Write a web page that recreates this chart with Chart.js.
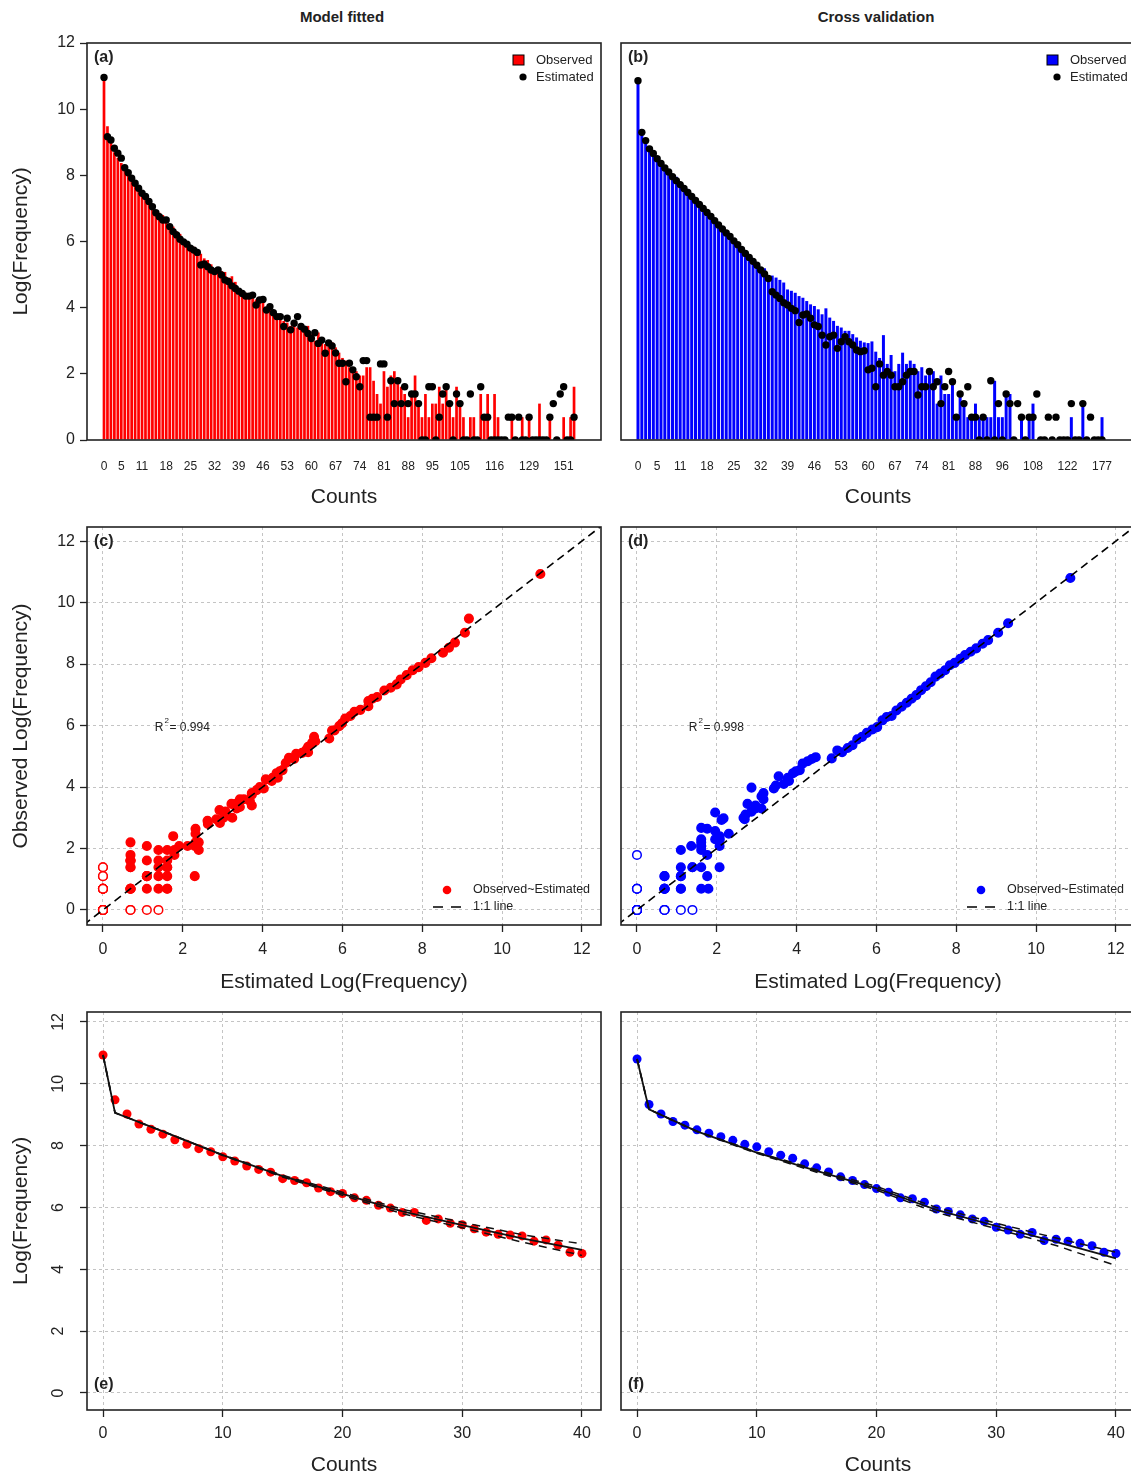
<!DOCTYPE html>
<html>
<head>
<meta charset="utf-8">
<title>Observed and estimated log frequencies</title>
<script src="https://cdn.jsdelivr.net/npm/chart.js@4.4.1/dist/chart.umd.min.js"></script>
<style>
  html, body { margin: 0; overflow: hidden; }
  body { background: #fff; width: 1131px; height: 1478px; position: relative; font-family: "Liberation Sans", Arial, sans-serif; color: #222; }
  canvas { position: absolute; }
  .col { position: absolute; top: 8px; font-size: 15px; font-weight: bold; transform: translateX(-50%); white-space: nowrap; }
</style>
</head>
<body>
<div class="col" style="left:342px">Model fitted</div>
<div class="col" style="left:876px">Cross validation</div>
<canvas id="chartA" width="610" height="480" style="left:0;top:30px"></canvas>
<canvas id="chartB" width="530" height="480" style="left:612px;top:30px"></canvas>
<canvas id="chartC" width="610" height="480" style="left:0;top:515px"></canvas>
<canvas id="chartD" width="530" height="480" style="left:612px;top:515px"></canvas>
<canvas id="chartE" width="610" height="478" style="left:0;top:1000px"></canvas>
<canvas id="chartF" width="530" height="478" style="left:612px;top:1000px"></canvas>
<script>
// ---- model fitted: one bar per observed count value ----
var countsA = [0,1,2,3,4,5,6,7,8,9,10,11,12,13,14,15,16,17,18,19,20,21,22,23,24,25,26,27,28,29,
  30,31,32,33,34,35,36,37,38,39,40,41,42,43,44,45,46,47,48,49,50,51,52,53,54,55,56,57,58,59,
  60,61,62,63,64,65,66,67,68,69,70,71,72,73,74,75,76,77,78,79,80,81,82,83,84,85,86,87,88,89,
  90,91,92,93,94,95,96,97,98,99,100,102,104,105,106,107,108,109,110,111,112,114,115,116,
  117,118,119,120,122,123,125,127,128,129,131,132,134,135,137,139,141,144,147,151,156,163,172];
var obsA = [10.93,9.48,9.02,8.70,8.53,8.37,8.19,8.04,7.90,7.80,7.64,7.50,7.34,7.23,7.14,6.93,6.87,6.80,6.63,6.51,
  6.45,6.31,6.23,6.07,5.98,5.84,5.84,5.58,5.63,5.49,5.44,5.31,5.20,5.13,5.11,5.08,4.91,4.95,4.78,4.55,4.51,
  4.45,4.40,4.30,4.25,4.20,4.30,4.00,3.95,3.90,3.80,3.75,3.60,3.55,3.45,3.60,3.40,3.35,3.30,3.45,3.20,
  3.00,3.25,3.00,2.90,2.83,2.95,2.80,
  2.64,2.48,2.40,2.20,2.08,2.08,1.95,1.95,2.20,2.20,
  1.79,1.39,1.10,2.08,1.61,1.95,2.08,1.79,1.61,1.39,
  0.69,1.39,1.95,1.10,0.69,1.39,0.69,1.10,1.10,1.61,
  1.10,1.61,1.10,0.69,1.61,1.10,0.69,0,0.69,0.69,
  0,1.39,0.69,1.39,0,1.39,0.69,0,0,0,
  0.69,0,0,0.69,0,0.69,0,0,1.10,0,
  0,0.69,0,0,0,0.69,0,0.69,1.61];
var estA = [10.96,9.17,9.07,8.82,8.67,8.52,8.23,8.08,7.91,7.76,7.61,7.46,7.36,7.21,7.05,6.87,6.75,6.65,6.65,6.45,
  6.30,6.20,6.07,5.99,5.92,5.80,5.74,5.67,5.29,5.32,5.24,5.14,5.09,5.14,4.99,4.84,4.79,4.66,4.58,4.50,4.43,
  4.35,4.35,4.38,4.08,4.23,4.25,3.93,4.03,3.85,3.73,3.73,3.43,3.68,3.33,3.53,3.73,3.43,3.35,3.22,3.07,
  3.24,2.92,3.02,2.62,2.93,2.84,2.63,
  2.32,2.32,1.76,2.32,2.12,1.91,1.61,2.40,2.40,0.69,
  0.69,0.69,2.30,2.30,0.69,1.79,1.10,1.79,1.10,1.61,
  1.10,1.39,1.39,1.10,0,0,1.61,1.61,0,0.69,
  1.39,1.61,1.10,0,1.39,1.10,0,0,1.39,0,
  0,1.61,0.69,0.69,0,0,0,0,0,0.69,
  0.69,0,0.69,0,0,0.69,0,0,0,0,
  0,0.69,1.10,0,1.39,1.61,0,0,0.69];

// ---- cross validation ----
var countsB = [0,1,2,3,4,5,6,7,8,9,10,11,12,13,14,15,16,17,18,19,20,21,22,23,24,25,26,27,28,29,
  30,31,32,33,34,35,36,37,38,39,40,41,42,43,44,45,46,47,48,49,50,51,52,53,54,55,56,57,58,59,
  60,61,62,63,64,65,66,67,68,69,70,71,72,73,74,75,76,77,78,79,80,81,82,83,84,85,86,87,88,
  89,90,91,92,94,95,96,98,99,101,102,104,105,107,108,109,111,112,114,116,117,119,120,122,
  125,129,133,138,142,149,156,165,177];
var obsB = [10.80,9.33,9.02,8.78,8.66,8.51,8.40,8.29,8.17,8.04,7.96,7.80,7.69,7.59,7.41,7.28,7.15,6.99,6.87,6.74,
  6.61,6.49,6.31,6.28,6.17,5.95,5.87,5.76,5.63,5.55,5.36,5.27,5.13,5.19,4.93,4.97,4.91,4.84,4.76,4.55,4.51,
  4.45,4.35,4.30,4.20,4.10,4.05,3.95,3.80,3.98,3.70,3.60,3.45,3.40,3.30,3.30,3.20,3.10,3.00,2.95,2.93,2.98,
  2.67,2.48,3.17,2.30,2.57,2.08,2.30,2.64,2.30,2.40,
  2.30,2.08,2.20,1.95,2.08,2.08,1.10,1.95,1.39,1.39,
  1.79,0.69,1.39,1.10,0.69,0.69,1.10,0.69,0.69,0.69,
  0.69,1.79,0.69,0.69,1.39,1.39,0,0,0.69,0,
  0.69,1.10,0,0,0,0,0,0,0,0,
  0,0.69,0,0,1.10,0,0,0,0,0.69];
var estB = [10.86,9.30,9.05,8.80,8.66,8.50,8.36,8.22,8.10,7.96,
  7.84,7.72,7.60,7.48,7.36,7.24,7.12,7.00,6.88,6.76,
  6.63,6.50,6.38,6.26,6.15,6.02,5.90,5.76,5.64,5.52,
  5.40,5.28,5.14,5.02,4.88,4.48,4.38,4.28,4.15,4.08,
  3.98,3.91,3.55,3.78,3.81,3.68,3.48,3.43,3.17,2.87,
  3.12,3.17,2.77,2.97,3.12,2.97,2.87,2.72,2.67,2.70,
  2.12,2.17,1.61,2.30,1.96,2.07,1.96,1.61,1.61,1.76,
  1.96,2.07,2.07,1.36,1.61,1.61,2.07,1.61,1.76,1.10,
  1.61,2.07,1.76,0.69,1.39,1.10,1.61,0.69,0.69,0,
  0.69,0,1.79,0,1.10,0,1.39,1.10,0,1.10,
  0.69,0,0.69,0.69,1.39,0,0,0.69,0,0.69,
  0,0,0,1.10,0,0,1.10,0,0.69,0,
  0,0];

// tick labels
var shownA = [0,5,11,18,25,32,39,46,53,60,67,74,81,88,95,105,116,129,151];
var shownB = [0,5,11,18,25,32,39,46,53,60,67,74,81,88,96,108,122,177];
var logTicks = [0,2,4,6,8,10,12];
var countTicks = [0,10,20,30,40];

// fitted curves for counts 0-40 (solid = fit, dashed = bounds)
var fitX = [0,1,5,10,15,20,25,30,35,40];
var fitE = [10.93,9.06,8.46,7.69,7.01,6.44,5.87,5.43,5.00,4.63];
var upE  = [10.93,9.06,8.46,7.70,7.04,6.49,5.94,5.52,5.12,4.82];
var loE  = [10.93,9.06,8.46,7.68,6.98,6.39,5.80,5.34,4.88,4.45];
var fitF = [10.80,9.17,8.46,7.77,7.18,6.62,5.92,5.40,4.89,4.35];
var upF  = [10.80,9.17,8.47,7.79,7.22,6.68,6.00,5.49,5.01,4.55];
var loF  = [10.80,9.17,8.45,7.75,7.14,6.56,5.84,5.31,4.77,4.12];

var oneToOne = [-1, 13];
var r2C = '0.994';
var r2D = '0.998';

Chart.defaults.font.family = '"Liberation Sans", Arial, sans-serif';
Chart.defaults.color = '#222';
Chart.defaults.animation = false;
Chart.defaults.plugins.legend.display = false;
Chart.defaults.plugins.tooltip.enabled = false;

var FONT = '"Liberation Sans", Arial, sans-serif';

function fixedTicks(list) {
  return function (scale) {
    scale.ticks = list.map(function (v) { return { value: v }; });
  };
}

function pts(xs, ys) {
  return xs.map(function (x, i) { return { x: x, y: ys[i] }; });
}

// frame, panel tag and extra annotations
function decor(tag, tagAtBottom, extra) {
  return {
    id: 'decor',
    afterDraw: function (chart) {
      var ctx = chart.ctx, a = chart.chartArea;
      ctx.save();
      ctx.strokeStyle = '#222';
      ctx.lineWidth = 1.6;
      ctx.strokeRect(a.left, a.top, a.right - a.left, a.bottom - a.top);
      ctx.fillStyle = '#222';
      ctx.font = 'bold 16px ' + FONT;
      ctx.textAlign = 'left';
      ctx.textBaseline = 'middle';
      ctx.fillText(tag, a.left + 7, tagAtBottom ? a.bottom - 25 : a.top + 15);
      if (extra) extra(chart, ctx, a);
      ctx.restore();
    }
  };
}

function barLegend(color) {
  return function (chart, ctx, a) {
    ctx.fillStyle = color;
    ctx.fillRect(a.right - 88, a.top + 12, 11, 10);
    ctx.strokeStyle = '#000';
    ctx.lineWidth = 1;
    ctx.strokeRect(a.right - 88, a.top + 12, 11, 10);
    ctx.fillStyle = '#000';
    ctx.beginPath();
    ctx.arc(a.right - 78, a.top + 34, 3.6, 0, Math.PI * 2);
    ctx.fill();
    ctx.fillStyle = '#222';
    ctx.font = '13px ' + FONT;
    ctx.fillText('Observed', a.right - 65, a.top + 17);
    ctx.fillText('Estimated', a.right - 65, a.top + 34);
  };
}

function scatterLegend(color, r2) {
  return function (chart, ctx, a) {
    ctx.fillStyle = color;
    ctx.beginPath();
    ctx.arc(a.right - 154, a.bottom - 35, 4.3, 0, Math.PI * 2);
    ctx.fill();
    ctx.strokeStyle = '#000';
    ctx.lineWidth = 1.6;
    ctx.setLineDash([10, 8]);
    ctx.beginPath();
    ctx.moveTo(a.right - 168, a.bottom - 18);
    ctx.lineTo(a.right - 140, a.bottom - 18);
    ctx.stroke();
    ctx.setLineDash([]);
    ctx.fillStyle = '#222';
    ctx.font = '12.5px ' + FONT;
    ctx.fillText('Observed~Estimated', a.right - 128, a.bottom - 35);
    ctx.fillText('1:1 line', a.right - 128, a.bottom - 18);
    // R squared, placed in data units
    var x = chart.scales.x.getPixelForValue(1.3);
    var y = chart.scales.y.getPixelForValue(5.92);
    ctx.font = '12px ' + FONT;
    ctx.fillText('R', x, y);
    var w = ctx.measureText('R').width;
    ctx.font = '8px ' + FONT;
    ctx.fillText('2', x + w + 1, y - 7);
    ctx.font = '12px ' + FONT;
    ctx.fillText('= ' + r2, x + w + 6, y);
  };
}

function hollow(color) {
  return function (c) {
    var p = c.raw;
    return (p && (p.x === 0 || p.y === 0)) ? '#fff' : color;
  };
}

function yAxis(left, gridOn, rotated, min, max, title) {
  return {
    min: min, max: max, bounds: 'data',
    afterBuildTicks: fixedTicks(logTicks),
    ticks: {
      display: left, font: { size: 16 }, padding: rotated ? 13 : 5,
      minRotation: rotated ? 90 : 0, maxRotation: rotated ? 90 : 0,
      crossAlign: rotated ? 'center' : 'near'
    },
    grid: { drawOnChartArea: gridOn, drawTicks: left, tickLength: 7, tickColor: '#222', tickWidth: 1.3, color: '#c4c4c4', lineWidth: 1 },
    border: { display: false, dash: [3, 3] },
    title: { display: left, text: title, font: { size: 21 }, padding: { top: 9, bottom: 0 } },
    afterFit: function (s) { s.width = left ? 87 : 0; s.paddingTop = 0; s.paddingBottom = 0; }
  };
}

function padFor(left, top) {
  return left ? { top: top, right: 9 } : { top: top, left: 9, right: 7 };
}

function barOptions(counts, shown, xmin, xmax, left) {
  return {
    responsive: false,
    devicePixelRatio: 1,
    layout: { padding: padFor(left, 13) },
    scales: {
      x: {
        type: 'linear', min: xmin, max: xmax, bounds: 'data', offset: false,
        afterBuildTicks: function (s) {
          s.ticks = shown.map(function (c) { return { value: counts.indexOf(c) }; });
        },
        ticks: { autoSkip: false, maxRotation: 0, padding: 19, font: { size: 12 },
          callback: function (v) { return String(counts[v]); } },
        grid: { display: false, drawTicks: false, offset: false },
        border: { display: false },
        title: { display: true, text: 'Counts', font: { size: 21 }, padding: 0 },
        afterFit: function (s) { s.height = 70; s.paddingLeft = 0; s.paddingRight = 0; }
      },
      y: yAxis(left, false, false, 0, 12, 'Log(Frequency)')
    }
  };
}

function scatterOptions(left) {
  return {
    responsive: false,
    devicePixelRatio: 1,
    layout: { padding: padFor(left, 12) },
    scales: {
      x: {
        type: 'linear', min: -0.4, max: 12.48, bounds: 'data',
        afterBuildTicks: fixedTicks(logTicks),
        ticks: { font: { size: 16 }, padding: 8, maxRotation: 0 },
        grid: { color: '#c4c4c4', tickLength: 7, tickColor: '#222', tickWidth: 1.3 },
        border: { display: false, dash: [3, 3] },
        title: { display: true, text: 'Estimated Log(Frequency)', font: { size: 21 }, padding: 0 },
        afterFit: function (s) { s.height = 70; s.paddingLeft = 0; s.paddingRight = 0; }
      },
      y: yAxis(left, true, false, -0.49, 12.46, 'Observed Log(Frequency)')
    }
  };
}

function curveOptions(left) {
  return {
    responsive: false,
    devicePixelRatio: 1,
    layout: { padding: padFor(left, 12) },
    scales: {
      x: {
        type: 'linear', min: -1.34, max: 41.59, bounds: 'data',
        afterBuildTicks: fixedTicks(countTicks),
        ticks: { font: { size: 16 }, padding: 7, maxRotation: 0 },
        grid: { color: '#c4c4c4', tickLength: 7, tickColor: '#222', tickWidth: 1.3 },
        border: { display: false, dash: [3, 3] },
        title: { display: true, text: 'Counts', font: { size: 21 }, padding: 0 },
        afterFit: function (s) { s.height = 68; s.paddingLeft = 0; s.paddingRight = 0; }
      },
      y: yAxis(left, true, true, -0.55, 12.32, 'Log(Frequency)')
    }
  };
}

function barChart(id, counts, obs, est, shown, xmin, xmax, color, left, tag) {
  return new Chart(document.getElementById(id), {
    type: 'bar',
    data: {
      datasets: [
        { type: 'scatter', label: 'Estimated', data: est.map(function (v, i) { return { x: i, y: v }; }),
          pointRadius: 3.7, pointBackgroundColor: '#000', pointBorderWidth: 0, order: 0 },
        { label: 'Observed', data: obs.map(function (v, i) { return { x: i, y: v }; }),
          backgroundColor: color, borderWidth: 0, barPercentage: 0.78, categoryPercentage: 1, order: 1 }
      ]
    },
    options: barOptions(counts, shown, xmin, xmax, left),
    plugins: [decor(tag, false, barLegend(color))]
  });
}

function scatterChart(id, obs, est, color, left, tag, r2) {
  return new Chart(document.getElementById(id), {
    type: 'scatter',
    data: {
      datasets: [
        { type: 'line', label: '1:1 line', data: pts(oneToOne, oneToOne), borderColor: '#000', borderWidth: 1.6,
          borderDash: [8, 5], pointRadius: 0, order: 0 },
        { label: 'Observed~Estimated', data: pts(est, obs), pointRadius: 4.3, pointBorderColor: color,
          pointBorderWidth: 1.5, pointBackgroundColor: hollow(color), order: 1 }
      ]
    },
    options: scatterOptions(left),
    plugins: [decor(tag, false, scatterLegend(color, r2))]
  });
}

function curveChart(id, counts, obs, fit, up, lo, color, left, tag) {
  return new Chart(document.getElementById(id), {
    type: 'scatter',
    data: {
      datasets: [
        { type: 'line', data: pts(fitX, fit), borderColor: '#111', borderWidth: 1.8, pointRadius: 0, order: 0 },
        { type: 'line', data: pts(fitX, up), borderColor: '#111', borderWidth: 1.5, borderDash: [8, 6], pointRadius: 0, order: 0 },
        { type: 'line', data: pts(fitX, lo), borderColor: '#111', borderWidth: 1.5, borderDash: [8, 6], pointRadius: 0, order: 0 },
        { label: 'Observed', data: pts(counts.slice(0, 41), obs.slice(0, 41)), pointRadius: 4.5,
          pointBackgroundColor: color, pointBorderWidth: 0, order: 1 }
      ]
    },
    options: curveOptions(left),
    plugins: [decor(tag, true, null)]
  });
}

barChart('chartA', countsA, obsA, estA, shownA, -4.92, 143.8, '#ff0000', true, '(a)');
barChart('chartB', countsB, obsB, estB, shownB, -4.43, 129.6, '#0000ff', false, '(b)');
scatterChart('chartC', obsA, estA, '#ff0000', true, '(c)', r2C);
scatterChart('chartD', obsB, estB, '#0000ff', false, '(d)', r2D);
curveChart('chartE', countsA, obsA, fitE, upE, loE, '#ff0000', true, '(e)');
curveChart('chartF', countsB, obsB, fitF, upF, loF, '#0000ff', false, '(f)');
</script>
</body>
</html>
